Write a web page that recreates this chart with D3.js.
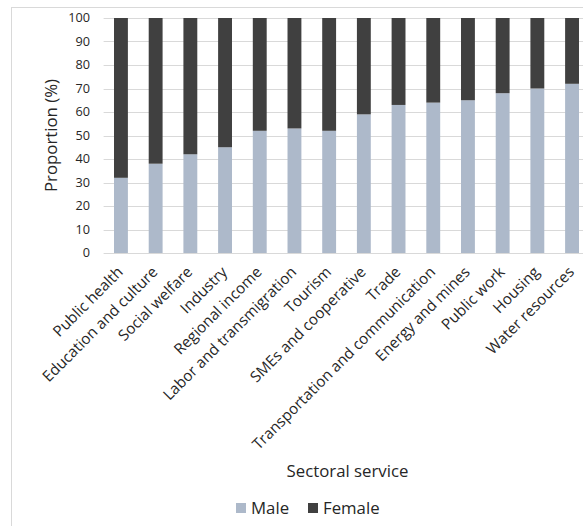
<!DOCTYPE html>
<html>
<head>
<meta charset="utf-8">
<script src="https://cdn.jsdelivr.net/npm/d3@7"></script>
<style>
  body { margin: 0; background: #fff; }
  svg text { font-family: "Open Sans", sans-serif; fill: #262626; }
</style>
</head>
<body>
<div id="chart"></div>
<script>
const sectors = [
  "Public health", "Education and culture", "Social welfare", "Industry",
  "Regional income", "Labor and transmigration", "Tourism", "SMEs and cooperative",
  "Trade", "Transportation and communication", "Energy and mines", "Public work",
  "Housing", "Water resources"
];
const male = [32, 38, 42, 45, 52, 53, 52, 59, 63, 64, 65, 68, 70, 72];
const female = male.map((m) => 100 - m);
const yTicks = [0, 10, 20, 30, 40, 50, 60, 70, 80, 90, 100];
const seriesNames = ["Male", "Female"];
const colors = { Male: "#adb9ca", Female: "#404040" };

const W = 583, H = 526;
const margin = { left: 103.6, top: 18, plotW: 485.8, plotH: 235 };

const svg = d3.select("#chart").append("svg").attr("width", W).attr("height", H);

// outer chart border
svg.append("rect")
  .attr("x", 11.5).attr("y", 7.5)
  .attr("width", 600).attr("height", 600)
  .attr("fill", "none").attr("stroke", "#d9d9d9");

const x = d3.scaleBand().domain(sectors)
  .range([margin.left, margin.left + margin.plotW])
  .paddingInner(0.6).paddingOuter(0.3);
const y = d3.scaleLinear().domain([0, 100])
  .range([margin.top + margin.plotH, margin.top]);

// gridlines
svg.append("g").selectAll("line").data(yTicks).join("line")
  .attr("x1", margin.left).attr("x2", margin.left + margin.plotW)
  .attr("y1", (d) => Math.round(y(d)) + 0.5).attr("y2", (d) => Math.round(y(d)) + 0.5)
  .attr("stroke", "#d9d9d9").attr("stroke-width", 1);

// stacked bars
const rows = sectors.map((s, i) => ({ sector: s, Male: male[i], Female: female[i] }));
const stacked = d3.stack().keys(seriesNames)(rows);
svg.append("g").selectAll("g").data(stacked).join("g")
  .attr("fill", (d) => colors[d.key])
  .selectAll("rect").data((d) => d).join("rect")
  .attr("x", (d) => x(d.data.sector))
  .attr("width", x.bandwidth())
  .attr("y", (d) => y(d[1]))
  .attr("height", (d) => y(d[0]) - y(d[1]));

// y tick labels
svg.append("g").selectAll("text").data(yTicks).join("text")
  .attr("x", 90).attr("y", (d) => y(d))
  .attr("dy", "0.35em")
  .attr("text-anchor", "end")
  .style("font-size", "12.7px")
  .text((d) => d);

// x tick labels
svg.append("g").selectAll("text").data(sectors).join("text")
  .attr("text-anchor", "end")
  .attr("transform", (d) => `translate(${x(d) + x.bandwidth() / 2 + 3},${margin.top + margin.plotH + 20}) rotate(-45)`)
  .style("font-size", "15.2px")
  .text((d) => d);

// axis titles
svg.append("text")
  .attr("transform", `translate(57,${margin.top + margin.plotH / 2}) rotate(-90)`)
  .attr("text-anchor", "middle")
  .style("font-size", "16.8px")
  .text("Proportion (%)");

svg.append("text")
  .attr("x", margin.left + margin.plotW / 2 + 1).attr("y", 477)
  .attr("text-anchor", "middle")
  .style("font-size", "16.8px")
  .text("Sectoral service");

// legend
const legend = svg.append("g").selectAll("g").data(seriesNames).join("g")
  .attr("transform", (d, i) => `translate(${236 + i * 72},503)`);
legend.append("rect").attr("width", 10).attr("height", 10)
  .attr("fill", (d) => colors[d]);
legend.append("text").attr("x", 15).attr("y", 5).attr("dy", "0.35em")
  .style("font-size", "16.8px")
  .text((d) => d);
</script>
</body>
</html>
